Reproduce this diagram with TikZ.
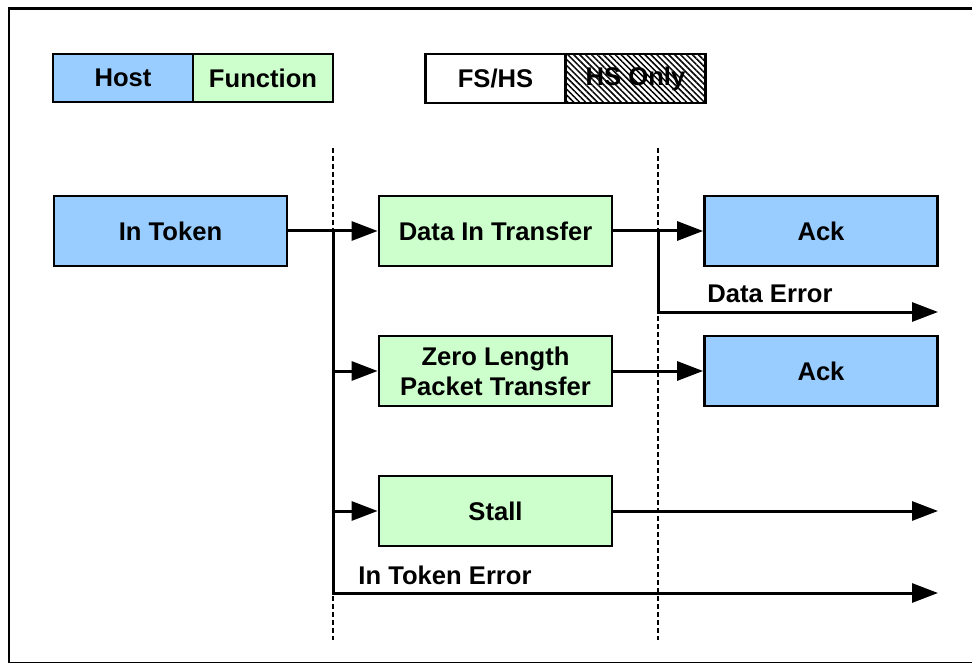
\documentclass[tikz,border=0pt]{standalone}
\usepackage{fontspec}
\setmainfont{Liberation Sans}
\usetikzlibrary{arrows.meta,patterns.meta}
\definecolor{hostblue}{HTML}{99CCFF}
\definecolor{funcgreen}{HTML}{CCFFCC}
\tikzset{
	box/.style={draw, line width=2.8pt, minimum width=233pt, minimum height=70pt, align=center, inner sep=0pt},
	hostbox/.style={box, fill=hostblue},
	funcbox/.style={box, fill=funcgreen},
	key/.style={draw, line width=2.8pt, minimum width=140pt, minimum height=48pt, inner sep=0pt},
	link/.style={line width=3pt},
	arr/.style={link, -{Triangle[length=26pt,width=19pt]}},
	phase/.style={line width=1.2pt, dash pattern=on 5pt off 3pt},
}
\begin{document}
\begin{tikzpicture}[x=1pt,y=-1pt,font=\fontsize{25.6}{30}\selectfont\bfseries]
		\useasboundingbox (0,0) rectangle (972,663);
		\draw[line width=2.5pt] (9,8.5) rectangle (976,663.5);
		% legend
		\node[key, fill=hostblue] (host) at (123,78) {Host};
		\node[key, fill=funcgreen] (func) at (263,78) {Function};
		\node[key, fill=white, minimum height=49pt] (fshs) at (495.5,78.5) {FS/HS};
		\node[key, minimum height=49pt, preaction={fill=white},
			pattern={Lines[angle=-45,distance=4.2pt,line width=1.5pt]}] (hsonly) at (635.5,78.5) {HS Only};
		% phase borders
		\def\gateA{333};
		\def\gateB{658};
		\draw[phase] (\gateA,148) -- (\gateA,640);
		\draw[phase] (\gateB,148) -- (\gateB,640);
		% packets
		\node[hostbox] (intok) at (170.5,231) {In Token};
		\node[funcbox] (datain) at (495.5,231) {Data In Transfer};
		\node[funcbox] (zlp) at (495.5,371) {Zero Length\\Packet Transfer};
		\node[funcbox] (stall) at (495.5,511) {Stall};
		\node[hostbox] (ackA) at (821,231) {Ack};
		\node[hostbox] (ackB) at (821,371) {Ack};
		\coordinate (forkA) at (\gateA,231);
		\coordinate (forkB) at (\gateB,231);
		\coordinate (tokerr) at (938,593);
		\coordinate (dataerr) at (938,312);
		\coordinate (stallout) at (938,511);
		\draw[arr] (intok.east) -- (datain.west);
		\draw[arr] (forkA) |- (tokerr);
		\draw[arr] (forkA |- zlp.west) -- (zlp.west);
		\draw[arr] (forkA |- stall.west) -- (stall.west);
		\draw[arr] (datain.east) -- (ackA.west);
		\draw[arr] (forkB) |- (dataerr);
		\draw[arr] (zlp.east) -- (ackB.west);
		\draw[arr] (stall.east) -- (stallout);
		\node (dataerrlbl) at (770,294) {Data Error};
		\node (tokerrlbl) at (445,575) {In Token Error};
	\end{tikzpicture}
\end{document}
